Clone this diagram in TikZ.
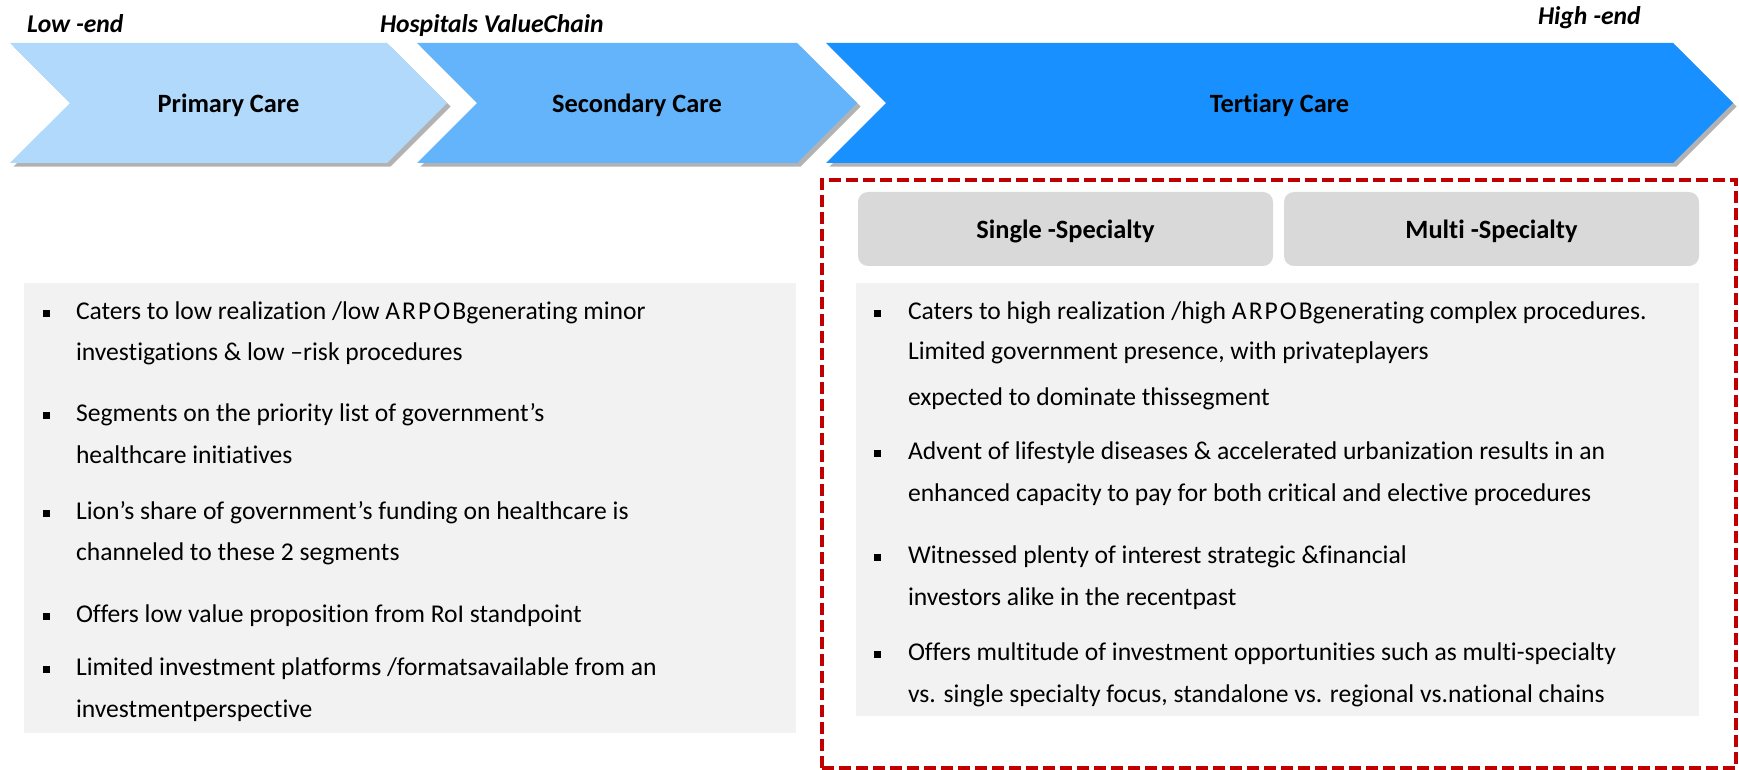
\documentclass[tikz,border=0pt]{standalone}
\usepackage{fontspec}
\setmainfont{Carlito}[Ligatures=NoCommon]
\usetikzlibrary{shapes,shapes.misc,shadows}

\definecolor{primaryblue}{RGB}{176,217,251}
\definecolor{secondaryblue}{RGB}{99,180,250}
\definecolor{tertiaryblue}{RGB}{24,144,255}
\definecolor{panelgray}{RGB}{242,242,242}
\definecolor{tabgray}{RGB}{217,217,217}
\definecolor{dashred}{RGB}{192,0,0}

\newcommand{\arpob}{{\addfontfeature{LetterSpace=8}ARPOB}}

\begin{document}
\begin{tikzpicture}[x=0.5pt, y=-0.5pt,
      every node/.append style={inner sep=0pt, outer sep=0pt, font=\fontsize{12.8}{15}\selectfont},
      care/.style={signal, signal from=west, signal to=east, signal pointer angle=90,
        minimum height=60pt, text height=10pt, text depth=0pt, font=\bfseries\fontsize{13.2}{15}\selectfont,
        drop shadow={shadow xshift=1.8pt, shadow yshift=-1.8pt, fill=black, opacity=0.3}}]
    \tikzstyle{tag} = [font=\bfseries\itshape\fontsize{12.8}{15}\selectfont, anchor=base west]
    \tikzstyle{panel} = [fill=panelgray]
    \tikzstyle{tab} = [fill=tabgray, rounded corners=5pt, minimum width=207.5pt, minimum height=37pt,
      text height=10pt, text depth=0pt, font=\bfseries\fontsize{13.2}{15}\selectfont]
    \tikzstyle{point} = [anchor=base west]
    \tikzstyle{bullet} = [fill=black, minimum size=3.5pt]
    \useasboundingbox (0,0) rectangle (1739,770);
    % value chain
    \node[tag] (lowend) at (27,33) {Low -end};
    \node[tag] (chain) at (380,33) {Hospitals ValueChain};
    \node[tag] (highend) at (1538,25) {High -end};
    \node[care, fill=primaryblue, minimum width=218.5pt] (primary) at (228.5,103) {Primary Care};
    \node[care, fill=secondaryblue, minimum width=220pt] (secondary) at (637,103) {Secondary Care};
    \node[care, fill=tertiaryblue, minimum width=453.5pt] (tertiary) at (1279.5,103) {Tertiary Care};
    % tertiary care block
    \node[draw=dashred, line width=1.65pt, dash pattern=on 6pt off 2.5pt,
      minimum width=457pt, minimum height=294pt] (highbox) at (1279,474) {};
    \node[tab] (single) at (1065.5,229) {Single -Specialty};
    \node[tab] (multi) at (1491.5,229) {Multi -Specialty};
    \node[panel, minimum width=386pt, minimum height=225pt] (lowpanel) at (410,508) {};
    \node[panel, minimum width=421.5pt, minimum height=216.5pt] (highpanel) at (1277.5,499.5) {};
    % low-end points
    \foreach \y/\t [count=\i] in {
        319/{Caters to low realization /low \arpob generating minor},
        360/{investigations \& low –risk procedures},
        421/{Segments on the priority list of government’s},
        463/{healthcare initiatives},
        519/{Lion’s share of government’s funding on healthcare is},
        560/{channeled to these 2 segments},
        622/{Offers low value proposition from RoI standpoint},
        675/{Limited investment platforms /formatsavailable from an},
        717/{investmentperspective}}
      \node[point] (low\i) at (76,\y) {\t};
    \foreach \y [count=\i] in {313,415,513,616,669}
      \node[bullet] (lowdot\i) at (46,\y) {};
    % high-end points
    \foreach \y/\t [count=\i] in {
        319/{Caters to high realization /high \arpob generating complex procedures.},
        359/{Limited government presence, with privateplayers},
        405/{expected to dominate thissegment},
        459/{Advent of lifestyle diseases \& accelerated urbanization results in an},
        501/{enhanced capacity to pay for both critical and elective procedures},
        563/{Witnessed plenty of interest strategic \&financial},
        605/{investors alike in the recentpast},
        660/{Offers multitude of investment opportunities such as multi-specialty},
        702/{vs. single specialty focus, standalone vs. regional vs.national chains}}
      \node[point] (high\i) at (908,\y) {\t};
    \foreach \y [count=\i] in {313,453,557,654}
      \node[bullet] (highdot\i) at (877,\y) {};
\end{tikzpicture}
\end{document}
